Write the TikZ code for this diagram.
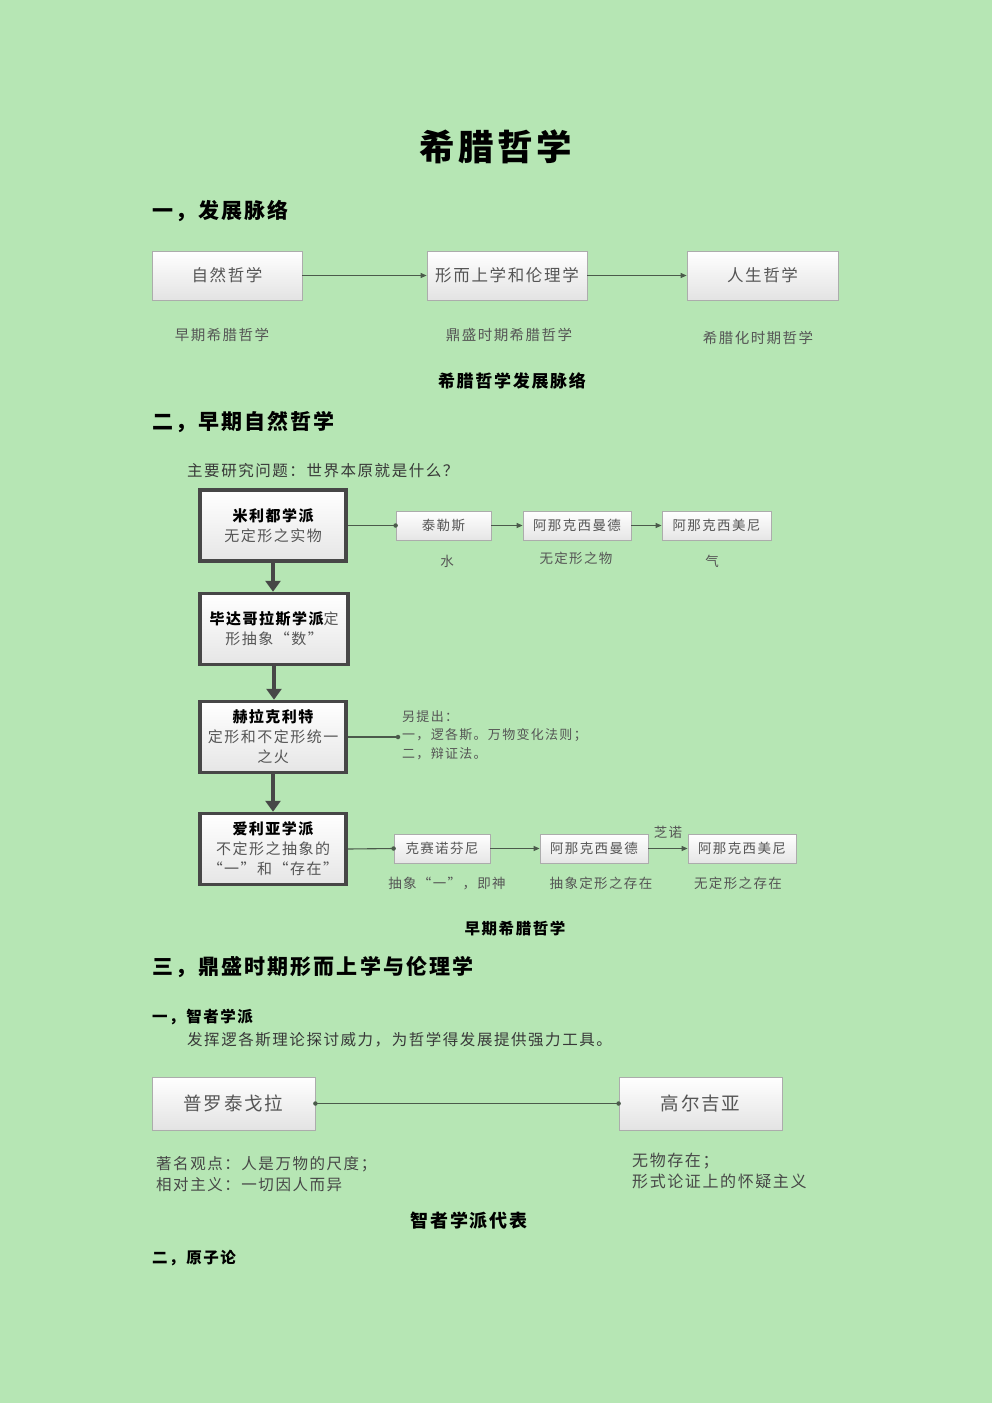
\documentclass[tikz,border=0pt]{standalone}
\usepackage{fontspec}
\setmainfont{Noto Sans CJK SC}[LetterSpace=10]
\usetikzlibrary{arrows.meta}
\definecolor{bg}{RGB}{182,230,180}
\definecolor{txt}{RGB}{85,85,85}
\definecolor{ln}{RGB}{75,90,75}
\newcommand{\fsz}[2]{\fontsize{#1pt}{#2pt}\selectfont}
\tikzset{
 lbox/.style={draw=gray!65, line width=0.8pt, top color=white, bottom color=gray!22, inner sep=0pt, minimum height=49pt, text=txt, font=\fsz{16.5}{20}},
 kbox/.style={draw=black!72, line width=3.5pt, top color=white, bottom color=gray!20, inner sep=0pt, minimum width=146pt, minimum height=71pt, align=center, text=txt, font=\fsz{15}{20}},
 sbox/.style={draw=gray!65, line width=0.8pt, top color=white, bottom color=gray!20, inner sep=0pt, minimum height=29pt, text=txt, font=\fsz{13.5}{16}},
 tarr/.style={draw=ln, line width=1.1pt, -{Triangle[width=5pt,length=6pt]}},
 tline/.style={draw=ln, line width=1.1pt},
 karr/.style={draw=black!72, line width=4.5pt, -{Triangle[width=15pt,length=11pt]}},
 head/.style={anchor=west, font=\bfseries\fsz{21}{24}, text=black, inner sep=0pt},
 subhead/.style={anchor=west, font=\bfseries\fsz{15.5}{20}, text=black, inner sep=0pt},
 captxt/.style={font=\bfseries\fsz{17}{20}, text=black, inner sep=0pt},
 lab/.style={font=\fsz{13.5}{16}, text=txt, inner sep=0pt},
 body/.style={anchor=west, font=\fsz{15.5}{21}, text=black!78, inner sep=0pt, align=left},
 dot/.style={fill=ln, circle, inner sep=0pt, minimum size=4.5pt}
}
\begin{document}
\begin{tikzpicture}[x=1pt,y=-1pt]
\fill[bg] (0,0) rectangle (992,1403);
\useasboundingbox (0,0) rectangle (992,1403);

% title
\node[font=\bfseries\fsz{35.5}{40}, text=black, inner sep=0pt] (title) at (496,147) {希腊哲学};

% section 1
\node[head] (h1) at (152,211) {一，发展脉络};
\node[lbox, minimum width=150pt] (b1) at (227,275.5) {自然哲学};
\node[lbox, minimum width=160pt] (b2) at (507,275.5) {形而上学和伦理学};
\node[lbox, minimum width=151pt] (b3) at (762.5,275.5) {人生哲学};
\draw[tarr] (b1.east) -- (b2.west);
\draw[tarr] (b2.east) -- (b3.west);
\node[lab, font=\fsz{14.5}{17}] (l1) at (222,335) {早期希腊哲学};
\node[lab, font=\fsz{14.5}{17}] (l2) at (509,335) {鼎盛时期希腊哲学};
\node[lab, font=\fsz{14.5}{17}] (l3) at (758,338) {希腊化时期哲学};
\node[captxt] (c1) at (512,381) {希腊哲学发展脉络};

% section 2
\node[head] (h2) at (152,422) {二，早期自然哲学};
\node[body, font=\fsz{15.5}{20}] (q) at (187,471) {主要研究问题：世界本原就是什么？};

\node[kbox] (A) at (273,525.5) {\textbf{\color{black}米利都学派}\\无定形之实物};
\node[kbox, minimum width=148pt] (B) at (274,629) {\textbf{\color{black}毕达哥拉斯学派}定\\形抽象“数”};
\node[kbox] (C) at (273,737) {\textbf{\color{black}赫拉克利特}\\定形和不定形统一\\之火};
\node[kbox] (D) at (273,849) {\textbf{\color{black}爱利亚学派}\\不定形之抽象的\\“一”和“存在”};
\draw[karr] (A.south) -- (A.south |- B.north);
\draw[karr] (B.south) -- (B.south |- C.north);
\draw[karr] (C.south) -- (C.south |- D.north);

% row A
\node[sbox, minimum width=95pt] (t1) at (443.5,525.5) {泰勒斯};
\node[sbox, minimum width=108pt] (t2) at (577,525.5) {阿那克西曼德};
\node[sbox, minimum width=109pt] (t3) at (716.5,525.5) {阿那克西美尼};
\draw[tline] (A.east) -- (t1.west);
\node[dot] (d1) at (t1.west) {};
\draw[tarr] (t1.east) -- (t2.west);
\draw[tarr] (t2.east) -- (t3.west);
\node[lab] (w1) at (447,561) {水};
\node[lab] (w2) at (576,558) {无定形之物};
\node[lab] (w3) at (712,561) {气};

% row C
\coordinate (cc) at (398,737);
\draw[tline] (C.east) -- (cc);
\node[dot] (d2) at (cc) {};
\node[body, font=\fsz{13}{18.5}, text=txt] (ctext) at (402,735) {另提出：\\一，逻各斯。万物变化法则；\\二，辩证法。};

% row D
\node[sbox, minimum width=96pt] (x1) at (442,848.5) {克赛诺芬尼};
\node[sbox, minimum width=108pt] (x2) at (594,848.5) {阿那克西曼德};
\node[sbox, minimum width=108pt] (x3) at (742,848.5) {阿那克西美尼};
\draw[tline] (D.east) -- (x1.west);
\node[dot] (d3) at (x1.west) {};
\draw[tarr] (x1.east) -- (x2.west);
\draw[tarr] (x2.east) -- node[lab, above=9pt] (zn) {芝诺} (x3.west);
\node[lab] (y1) at (447,883) {抽象“一”，即神};
\node[lab] (y2) at (601,883) {抽象定形之存在};
\node[lab] (y3) at (738,883) {无定形之存在};
\node[captxt, font=\bfseries\fsz{15.5}{20}] (c2) at (515,929) {早期希腊哲学};

% section 3
\node[head] (h3) at (152,967) {三，鼎盛时期形而上学与伦理学};
\node[subhead] (s1) at (152,1017) {一，智者学派};
\node[body, font=\fsz{15.5}{20}] (s1t) at (187,1040) {发挥逻各斯理论探讨威力，为哲学得发展提供强力工具。};
\node[lbox, minimum width=163pt, minimum height=53pt, font=\fsz{18.5}{22}] (P) at (233.5,1103.5) {普罗泰戈拉};
\node[lbox, minimum width=163pt, minimum height=53pt, font=\fsz{18.5}{22}] (G) at (700.5,1103.5) {高尔吉亚};
\draw[tline] (P.east) -- (G.west);
\node[dot] (d4) at (P.east) {};
\node[dot] (d5) at (G.west) {};
\node[body, font=\fsz{15.5}{21}, text=black!72] (pt) at (156,1174.5) {著名观点：人是万物的尺度；\\相对主义：一切因人而异};
\node[body, font=\fsz{16}{21}, text=black!72] (gt) at (632,1170.5) {无物存在；\\形式论证上的怀疑主义};
\node[captxt, font=\bfseries\fsz{18}{22}] (c3) at (469,1221) {智者学派代表};
\node[subhead] (s2) at (152,1258) {二，原子论};
\end{tikzpicture}
\end{document}
